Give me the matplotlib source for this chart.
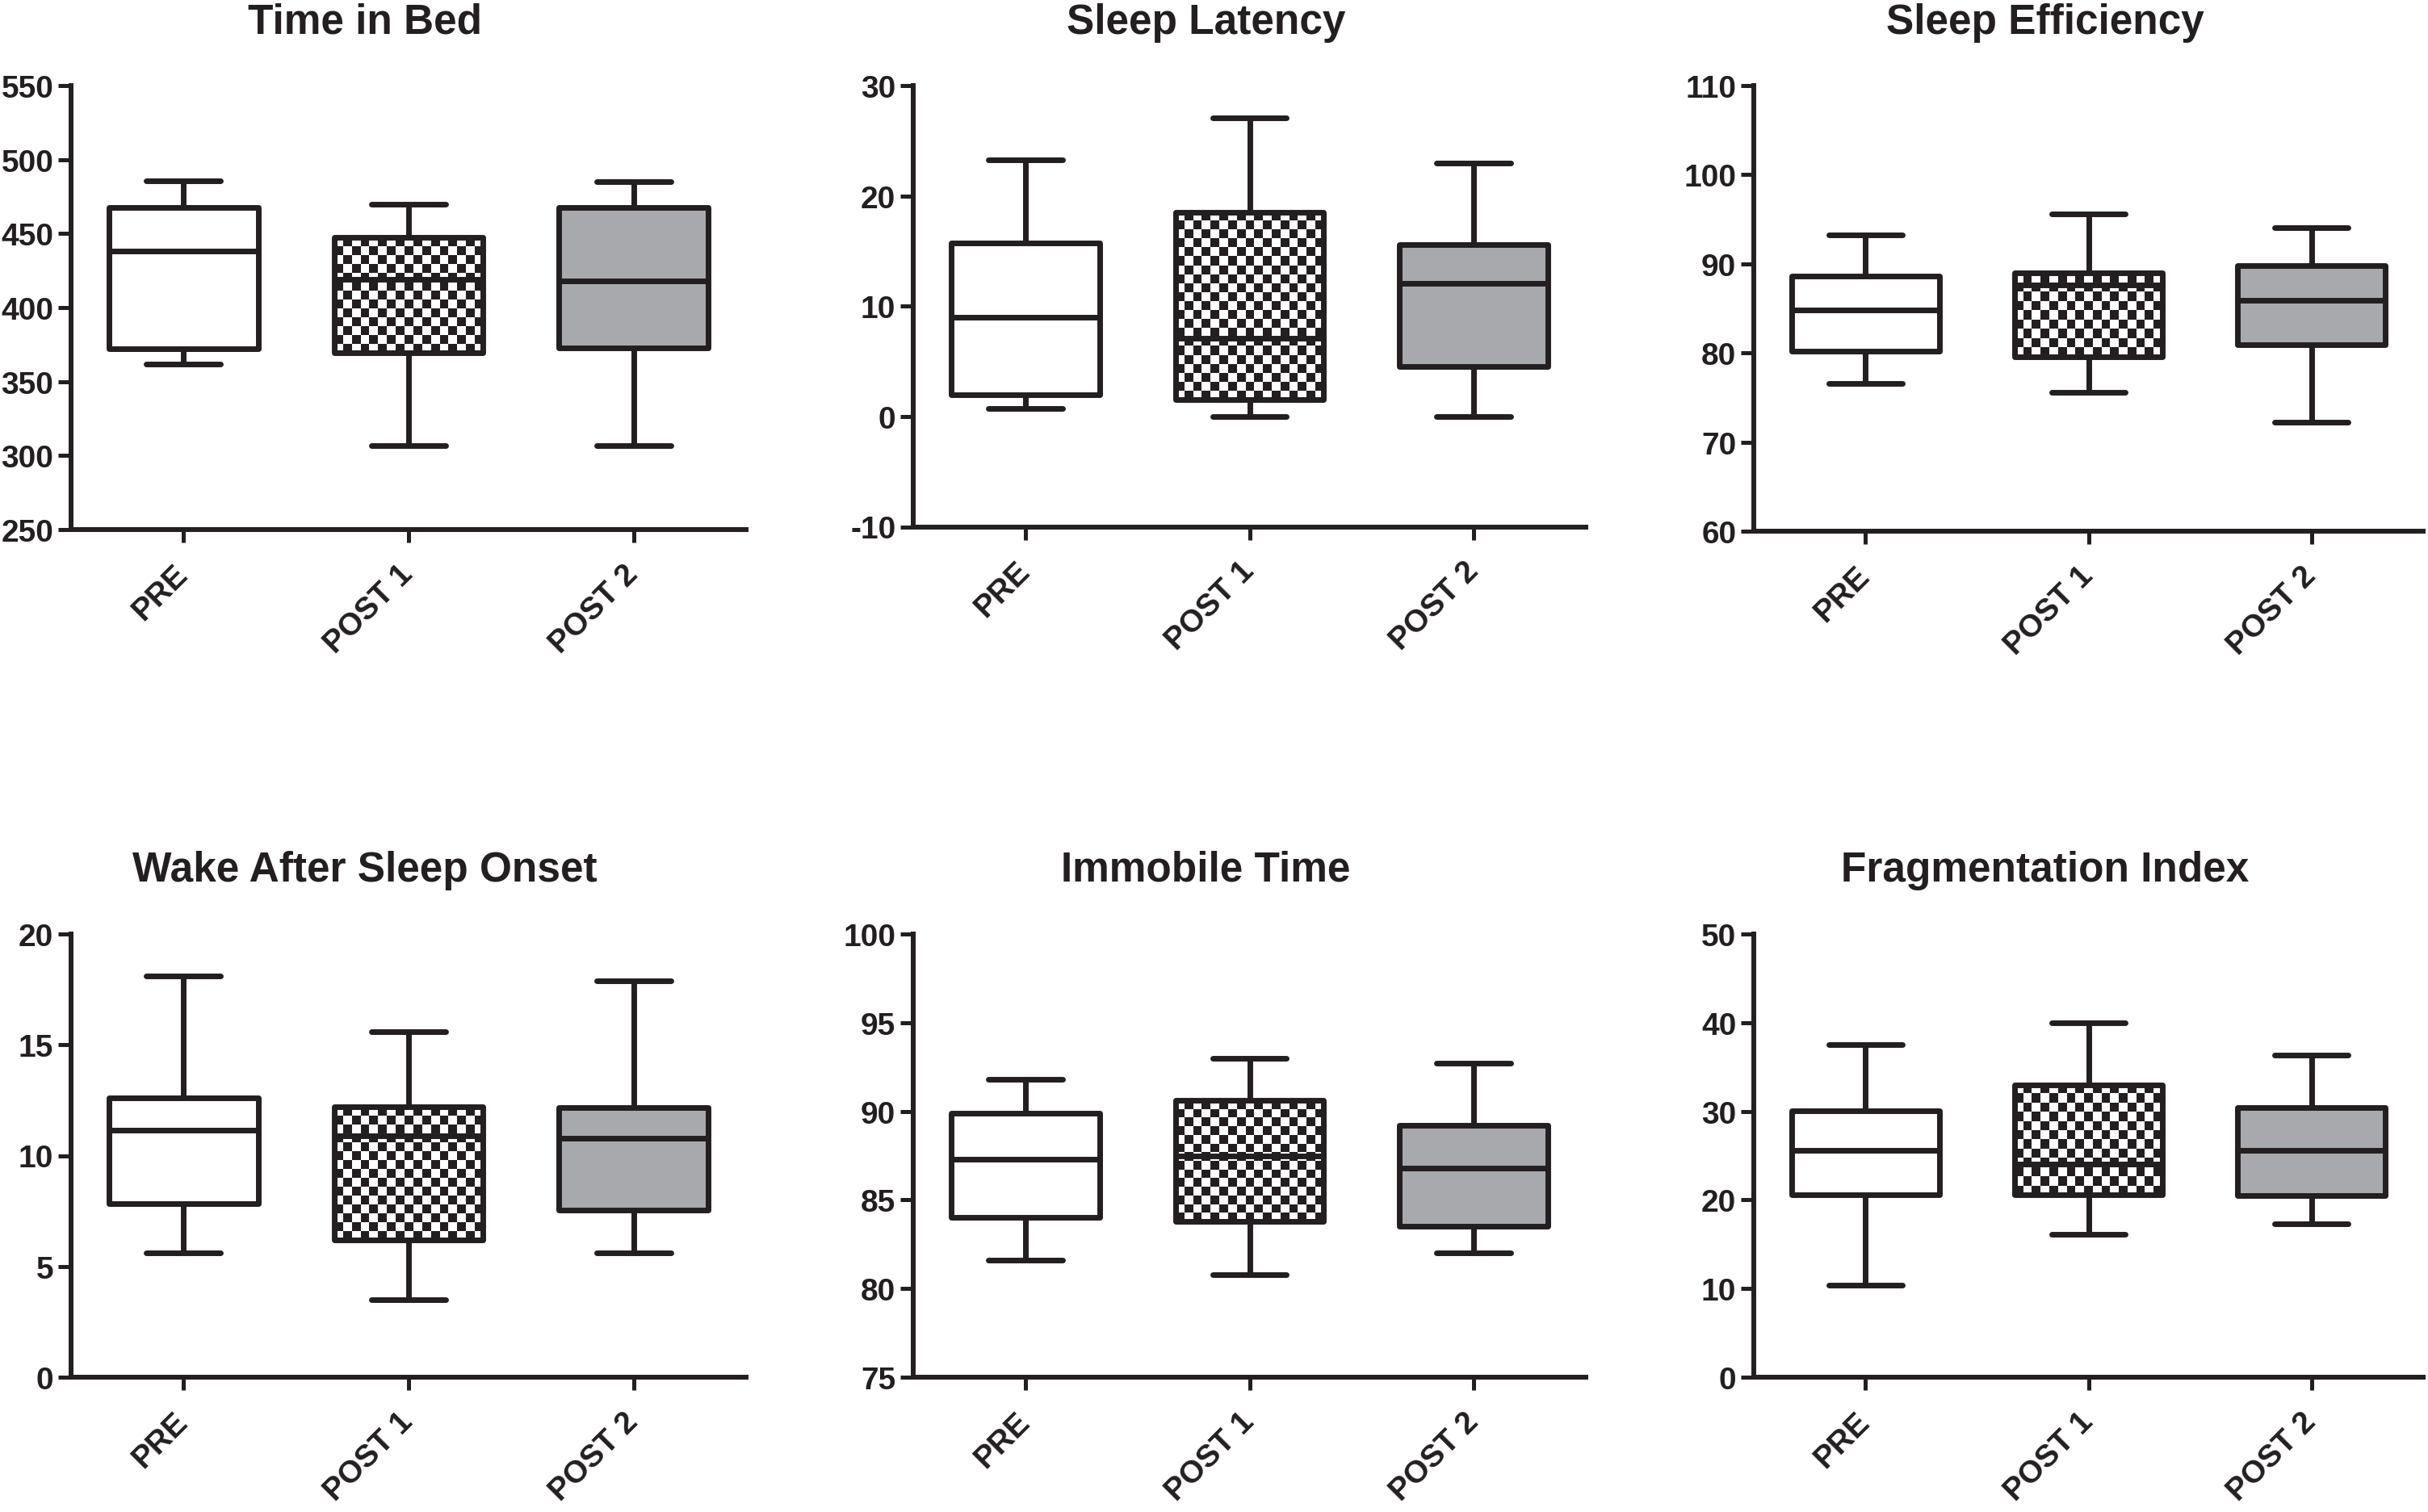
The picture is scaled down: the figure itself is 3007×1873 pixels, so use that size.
import matplotlib
matplotlib.use('Agg')
import matplotlib.pyplot as plt
import numpy as np
from matplotlib.colors import ListedColormap

plt.rcParams['font.family'] = ['Liberation Sans', 'DejaVu Sans']
plt.rcParams['font.weight'] = 'bold'
plt.rcParams['axes.unicode_minus'] = False

INK = '#231f20'
GRAY = '#a8a9ad'

groups = ['PRE', 'POST 1', 'POST 2']

# ---- data (min, Q1, median, Q3, max) per group ----
tib_min = [362, 307, 307]
tib_q1 = [372, 369.6, 372.8]
tib_med = [438, 419, 418]
tib_q3 = [467.5, 447.5, 467.5]
tib_max = [485.6, 470, 485]

sl_min = [0.7, 0, 0]
sl_q1 = [2.0, 1.5, 4.5]
sl_med = [9.0, 7.1, 12.1]
sl_q3 = [15.7, 18.5, 15.6]
sl_max = [23.3, 27.1, 23.0]

se_min = [76.6, 75.6, 72.2]
se_q1 = [80.2, 79.6, 80.9]
se_med = [84.8, 87.6, 85.9]
se_q3 = [88.6, 89.0, 89.8]
se_max = [93.2, 95.6, 94.1]

waso_min = [5.6, 3.5, 5.6]
waso_q1 = [7.85, 6.2, 7.55]
waso_med = [11.15, 10.9, 10.8]
waso_q3 = [12.6, 12.2, 12.15]
waso_max = [18.1, 15.6, 17.9]

it_min = [81.6, 80.8, 82.0]
it_q1 = [84.0, 83.8, 83.5]
it_med = [87.3, 87.5, 86.8]
it_q3 = [89.9, 90.6, 89.2]
it_max = [91.8, 93.0, 92.7]

fi_min = [10.4, 16.1, 17.3]
fi_q1 = [20.6, 20.6, 20.5]
fi_med = [25.6, 24.0, 25.6]
fi_q3 = [30.1, 33.0, 30.4]
fi_max = [37.5, 40.0, 36.3]

titles = ['Time in Bed', 'Sleep Latency', 'Sleep Efficiency',
          'Wake After Sleep Onset', 'Immobile Time', 'Fragmentation Index']
panel_data = [
    (tib_min, tib_q1, tib_med, tib_q3, tib_max),
    (sl_min, sl_q1, sl_med, sl_q3, sl_max),
    (se_min, se_q1, se_med, se_q3, se_max),
    (waso_min, waso_q1, waso_med, waso_q3, waso_max),
    (it_min, it_q1, it_med, it_q3, it_max),
    (fi_min, fi_q1, fi_med, fi_q3, fi_max),
]
y_ranges = [(250, 550, 50), (-10, 30, 10), (60, 110, 10),
            (0, 20, 5), (75, 100, 5), (0, 50, 10)]

# ---- layout in pixels ----
W, H = 3007, 1874
fig = plt.figure(figsize=(W / 100, H / 100), dpi=100)
fig.patch.set_facecolor('white')

col_left = [88, 1131, 2172]
col_width = [836, 833, 829]
row_top = [107, 1158]
row_bottom = [[657, 653.5, 659], [1707, 1707, 1707]]
title_base = [42, 1092]

LW = 5.0
BW = 0.662
fills = ['white', 'none', GRAY]
checker_cmap = ListedColormap(['white', INK])
SQ = 11.0  # checker square size in px

for i in range(6):
    r, c = divmod(i, 3)
    l = col_left[c]
    w = col_width[c]
    t = row_top[r]
    b = row_bottom[r][c]
    ax = fig.add_axes([l / W, 1 - b / H, w / W, (b - t) / H])
    lo, hi, step = y_ranges[i]
    ax.set_xlim(0.5, 3.5)
    ax.set_ylim(lo, hi)

    mn, q1, med, q3, mx = panel_data[i]
    stats = []
    for g in range(3):
        stats.append(dict(whislo=mn[g], q1=q1[g], med=med[g], q3=q3[g],
                          whishi=mx[g], fliers=[], label=groups[g]))
    res = ax.bxp(stats, positions=[1, 2, 3], widths=BW, capwidths=0.33,
                 patch_artist=True, showfliers=False, manage_ticks=False,
                 boxprops=dict(edgecolor=INK, linewidth=LW, joinstyle='round'),
                 medianprops=dict(color=INK, linewidth=LW, solid_capstyle='butt'),
                 whiskerprops=dict(color=INK, linewidth=LW, solid_capstyle='butt'),
                 capprops=dict(color=INK, linewidth=LW, solid_capstyle='round'),
                 zorder=3)
    for g, box in enumerate(res['boxes']):
        box.set_facecolor(fills[g])
    ax.set_xlim(0.5, 3.5)
    ax.set_ylim(lo, hi)
    # checkerboard fill for POST 1
    g = 1
    x0, x1 = 2 - BW / 2, 2 + BW / 2
    p0 = ax.transData.transform((x0, q1[g]))
    p1 = ax.transData.transform((x1, q3[g]))
    ncol = max(1, int(round(abs(p1[0] - p0[0]) / SQ)))
    nrow = max(1, int(round(abs(p1[1] - p0[1]) / SQ)))
    board = (np.add.outer(np.arange(nrow), np.arange(ncol)) % 2).astype(float)
    im = ax.imshow(board, extent=[x0, x1, q1[g], q3[g]], cmap=checker_cmap,
                   interpolation='nearest', aspect='auto', zorder=2,
                   vmin=0, vmax=1, origin='upper')
    im.set_clip_path(res['boxes'][g])
    ax.set_xlim(0.5, 3.5)
    ax.set_ylim(lo, hi)
    ax.set_yticks(np.arange(lo, hi + step / 2, step))
    ax.set_xticks([1, 2, 3], labels=groups)

    for s in ['top', 'right']:
        ax.spines[s].set_visible(False)
    for s in ['left', 'bottom']:
        ax.spines[s].set_linewidth(4.3)
        ax.spines[s].set_color(INK)
    ax.tick_params(axis='both', length=11.3, width=3.6, color=INK,
                   labelcolor=INK, labelsize=28, direction='out')
    ax.tick_params(axis='y', pad=4.3)
    ax.tick_params(axis='x', pad=24)
    for lab in ax.get_xticklabels():
        lab.set_rotation(45)
        lab.set_ha('right')
        lab.set_va('center')
        lab.set_rotation_mode('anchor')
        lab.set_fontweight('bold')
    for lab in ax.get_yticklabels():
        lab.set_fontweight('bold')
    ax.set_facecolor('none')

    fig.text((l + w / 2 - 54) / W, 1 - title_base[r] / H, titles[i],
             ha='center', va='baseline', fontsize=37, fontweight='bold',
             color=INK)

fig.savefig('out.png', dpi=100, facecolor='white')
